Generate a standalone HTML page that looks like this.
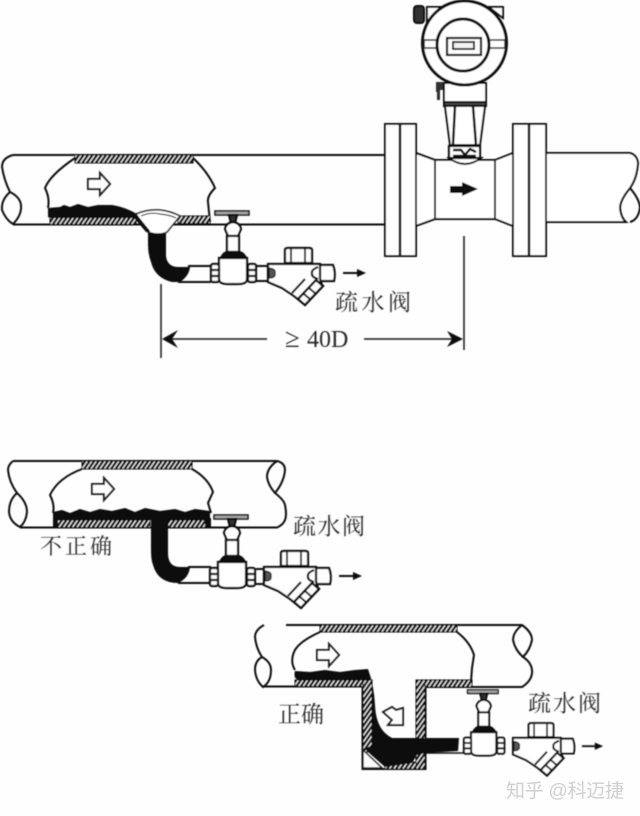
<!DOCTYPE html>
<html><head><meta charset="utf-8"><style>
html,body{margin:0;padding:0;background:#fdfefd}
svg{display:block}
text{font-family:"Liberation Serif","Noto Serif CJK SC",serif;fill:#2a2a2a}
.hh{fill:url(#h);stroke:#111;stroke-width:1}
</style></head><body>
<svg width="640" height="816" viewBox="0 0 640 816" xmlns="http://www.w3.org/2000/svg">
<defs>
<pattern id="h" width="4.5" height="8" patternUnits="userSpaceOnUse" patternTransform="skewX(-35)">
<rect width="4.5" height="8" fill="#0c0c0c"/><rect x="0" width="1.500" height="8" fill="#eee"/>
</pattern>
<filter id="b" filterUnits="userSpaceOnUse" x="0" y="0" width="640" height="816"><feGaussianBlur stdDeviation="0.5"/></filter>
<g id="arrow"><path d="M0,6 H12 V0 L22,11 L12,22 V16 H0 Z" fill="#fff" stroke="#222" stroke-width="2"/></g>
<g id="valve" fill="#fff" stroke="#111" stroke-width="2.200">
<rect x="215" y="211" width="34" height="4" fill="#aaa" stroke-width="1.500"/>
<path d="M229,215 H237 L235,223 H231 Z" fill="#333"/>
<path d="M225,229 Q226,223 233,222 Q240,223 241,229 L238,236 H228 Z"/>
<rect x="227" y="236" width="12" height="16"/>
<path d="M221,258 Q224,252 228,252 H238 Q243,252 246,258 Z" fill="#111"/>
<path d="M219,258 H247 V279 Q247,284 238,284 H228 Q219,284 219,279 Z"/>
<rect x="211" y="264" width="8" height="18" rx="2"/><path d="M211,270 H219 M211,276 H219"/>
<rect x="248" y="264" width="8" height="18" rx="2"/><path d="M248,270 H256 M248,276 H256"/>
</g>
<g id="trap" fill="#fff" stroke="#111" stroke-width="2.200">
<path d="M285,263 V250 Q285,248 288,248 H309 Q312,248 312,250 V263 Z"/><path d="M291,249 V263 M305,249 V263" stroke-width="1.800"/>
<path d="M320,265 H333 Q336,273 334,281 H320 Z"/>
<path d="M268,264 H320 V279 L322,285 L304,304 L294,296 L282,288 L268,282 Z"/>
<path d="M269,268 Q276,269 275,273 Q276,278 269,278 Z" fill="#555" stroke-width="1.200"/>
<path d="M318,267 Q311,270 312,273 Q311,277 318,279" fill="none"/>
<path d="M292,293 L305,279" fill="none"/>
<polygon points="298,299 316,280 323,286 305,305" stroke-width="2.400"/>
<path d="M304,294 L311,300 M309,288 L316,294" fill="none" stroke-width="2"/>
<path d="M343,273 H358" fill="none" stroke="#111" stroke-width="2"/><path d="M357,269 L366,273 L357,277 Z" fill="#111" stroke="none"/>
</g>
</defs>
<g filter="url(#b)">

<!-- TOP SCENE -->
<g fill="none" stroke="#111" stroke-width="2">
<path d="M13,155 H385"/><path d="M13,224.500 H385"/>
<path d="M13,155 Q2,158 2,167 Q4,180 10,192 Q1,200 2,210 Q6,220 13,224 Q22,215 21,205 Q20,197 10,192"/>
<path d="M75,158 Q50,175 45,188 Q50,198 48,208 M193,158 Q208,172 215,188 Q207,196 208,202 L210,222"/>
</g>
<rect x="75" y="155" width="118" height="8" class="hh"/>
<rect x="50" y="217" width="86" height="7.500" class="hh"/>
<rect x="178" y="216" width="32" height="7.500" class="hh"/>
<path d="M48,208 L60,207 L64,205 L70,207 L78,204 L88,207 L98,205 L112,205 Q125,207 137,214 L150,232 H146 L134,218 H50 L48,217 Z" fill="#0c0c0c"/>
<path d="M136,214 Q148,209 160,210 Q170,211 180,216 L167,232 Q158,236 148,232 Z" fill="#fff" stroke="#222" stroke-width="1.500"/>
<path d="M141,216 Q150,212 160,214 Q170,215 176,218" fill="none" stroke="#333" stroke-width="1.200"/>
<path d="M136,216 L149,232" stroke="#111" stroke-width="3" fill="none"/>
<path d="M148,232 Q158,236 166,232 V256 Q167,266 177,267 H190 Q189,276 180,282 H172 Q155,278 151,262 Q148,254 148,245 Z" fill="#0c0c0c"/>
<path d="M178,282 H211 M188,266 H211 M256,266 H269 M256,281 H270" stroke="#111" stroke-width="2" fill="none"/>
<use href="#arrow" x="88" y="173"/>
<use href="#valve"/><use href="#trap"/>

<!-- flowmeter -->
<g fill="#fff" stroke="#111" stroke-width="2">
<path d="M546,153 H630 Q637,155 638,163 Q637,178 630,188 Q620,200 620,208 Q621,218 626,222 H546" />
<path d="M630,188 Q640,200 640,208 Q638,220 630,222" fill="none"/>
<path d="M416,153 L435,160 H495 L513,153 V226 L495,219 H435 L416,226 Z"/>
<path d="M435,160 V219 M495,160 V219"/>
<rect x="385" y="124" width="31" height="132"/><path d="M400,124 V256" stroke-width="2.500"/>
<rect x="513" y="124" width="33" height="132"/><path d="M529,124 V256" stroke-width="2.500"/>
<path d="M444,83 H486 V102 H444 Z"/>
<path d="M445,106 L450,145 H480 L485,106 Z"/>
<path d="M444,102 H486 V106 H444 Z" fill="#444"/>
<path d="M455,106 L453,145 M473,106 L476,145" stroke-width="2.500"/>
<path d="M449,158 Q465,170 481,158 Z"/>
<rect x="449" y="146" width="31" height="12" stroke-width="2.200"/>
<path d="M453,150 H461 L465,155 L470,149 L476,152 M453,156 H476" fill="none" stroke-width="2.500"/>
<rect x="414" y="6" width="10" height="17" rx="3" fill="#333"/>
<path d="M427,7 H503 V18 L490,8 H440 L427,22 Z"/>
<circle cx="464.500" cy="43" r="42" stroke-width="3"/>
<path d="M424,40 H440 V48 H424 Z M488,40 H505 V48 H488 Z" stroke="#222" stroke-width="1.600"/>
<circle cx="463" cy="45" r="26" stroke-width="3"/>
<rect x="447" y="38" width="34" height="17" stroke-width="2.200"/>
<rect x="453" y="42" width="21" height="7" fill="#f2f2f2" stroke-width="1.800"/>
</g>
<path d="M450,186 H462 V182 L478,189 L462,196 V193 H450 Z" fill="#111"/>
<path d="M436,82 H443 V90 H440 V100 H437 V92 H436 Z" fill="#333"/>

<!-- dimension -->
<g stroke="#1c1c1c" stroke-width="1.500" fill="none">
<path d="M161,284 V358 M464,236 V350 M170,339 H267 M364,339 H455"/>
</g>
<path d="M162,339 L178,330 L172,339 L178,348 Z M463,339 L447,331 L452,339 L447,347 Z" fill="#111"/>
<text x="285" y="347" font-size="27">≥</text>
<text x="307" y="347" font-size="24">40D</text>
<text x="335" y="310" font-size="23" textLength="76">疏水阀</text>

<!-- MIDDLE SCENE -->
<g fill="none" stroke="#111" stroke-width="2">
<path d="M13,461 H277 Q285,463 285,470 Q284,482 275,493 Q284,500 285,505 Q287,515 285,520 Q283,525 277,527.500 H20"/>
<path d="M277,461 Q267,468 267,477 Q268,485 275,493"/>
<path d="M13,461 Q8,465 8,470 Q9,482 17,493 Q27,502 27,512 Q26,522 20,527 Q10,522 9,512 Q9,500 17,493"/>
<path d="M82,469 Q58,478 50,495 Q55,505 53,513 M192,469 Q208,478 213,492 L208,503 L211,513"/>
</g>
<rect x="82" y="461" width="110" height="8" class="hh"/>
<rect x="54" y="520" width="96" height="7.500" class="hh"/>
<rect x="168" y="520" width="42" height="7.500" class="hh"/>
<path d="M53,512 L62,510 L70,513 L80,509 L90,512 L100,509 L112,511 L125,508 L135,512 L145,508 L160,511 L175,509 L185,512 L195,509 L210,511 V520 H53 Z" fill="#0c0c0c"/>
<path d="M53,518 V527 H58 V518 Z M205,527 H211 V518 H205 Z" fill="#0c0c0c"/>
<path d="M151,520 H168 V553 Q168,567 180,567 H190 Q189,578 178,583 Q158,583 153,565 Q151,560 151,550 Z" fill="#0c0c0c"/>
<path d="M178,583 H211 M188,567 H211 M256,569 H265 M256,584 H266" stroke="#111" stroke-width="2" fill="none"/>
<use href="#arrow" x="92" y="478"/>
<use href="#valve" x="-1" y="304"/>
<use href="#trap" x="-4" y="303"/>
<text x="293" y="534" font-size="23" textLength="72">疏水阀</text>
<text x="40" y="554" font-size="22" textLength="72">不正确</text>

<!-- BOTTOM SCENE -->
<g fill="none" stroke="#111" stroke-width="2">
<path d="M286,625 H522 Q532,632 532,640 Q530,650 523,657 Q531,662 532,670 Q533,680 522,687 H420 M364,686.500 H263"/>
<path d="M522,625 Q513,632 513,640 Q515,650 523,657"/>
<path d="M264,625 Q255,630 255,637 Q256,648 262,657 Q271,662 271,670 Q271,682 263,687 Q255,680 255,668 Q256,660 262,657"/>
<path d="M320,632 Q298,642 294,652 Q290,662 295,670 M457,632 Q470,642 474,655 L472,668 L471,682"/>
<path d="M362.500,686 V769 H425.500 V753 M425.500,738 V680"/>
</g>
<rect x="320" y="625" width="137" height="7" class="hh"/>
<rect x="295" y="680" width="70" height="6.500" class="hh"/>
<rect x="363" y="680" width="9" height="72" class="hh"/>
<rect x="416" y="680" width="56" height="7" class="hh"/>
<rect x="416" y="680" width="9" height="59" class="hh"/>
<rect x="385" y="762" width="40" height="7" class="hh"/>
<rect x="416" y="752" width="9" height="17" class="hh"/>
<path d="M295,671 L310,672 L325,670 L340,672 L355,670 L368,669 Q374,685 375,705 Q376,730 392,738 H459 L458,751 L425,753 L417,755 L412,763 L385,767 L368,752 L365,749 L372,745 V680 H298 Q293,678 295,671 Z" fill="#0c0c0c"/>
<path d="M363,750 L382,768 H363 Z" fill="#fff" stroke="#1c1c1c" stroke-width="1.500"/>
<use href="#arrow" x="317" y="644"/>
<path d="M383,712 L392,707 L396,710 L403,708 L403,725 L388,725 L392,720 Z" fill="#fff" stroke="#222" stroke-width="2"/>
<path d="M425,753 H465" stroke="#111" stroke-width="1.500" fill="none"/>
<use href="#valve" transform="translate(274,500) scale(.9)"/>
<use href="#trap" transform="translate(266.400,495) scale(.92)"/>
<text x="278" y="722" font-size="23" textLength="46">正确</text>
<text x="528" y="711" font-size="23" textLength="73">疏水阀</text>
</g>
<text x="506" y="797" font-size="19" textLength="118" style="font-family:'Liberation Sans','Noto Sans CJK SC',sans-serif;fill:#cfcfcf">知乎 @科迈捷</text>
</svg>
</body></html>
